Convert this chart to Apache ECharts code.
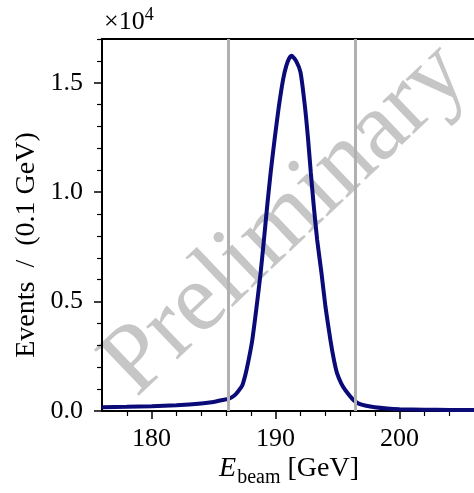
<!DOCTYPE html>
<html>
<head>
<meta charset="utf-8">
<script src="https://cdn.jsdelivr.net/npm/echarts@6/dist/echarts.min.js"></script>
<style>html,body{margin:0;padding:0;background:#fff;}#c{width:474px;height:493px;}</style>
</head>
<body>
<div id="c"></div>
<script>
// Beam energy (GeV) and events per 0.1 GeV
const eBeam = [176.0, 178.0, 180.0, 182.0, 184.0, 185.0, 185.7, 186.24, 186.7, 187.05, 187.3, 187.59, 187.85, 188.12, 188.47, 188.79, 189.06, 189.32, 189.60, 189.92, 190.27, 190.61, 190.85, 191.07, 191.3, 191.65, 192.01, 192.36, 192.62, 192.84, 193.08, 193.35, 193.70, 194.02, 194.42, 194.70, 194.96, 195.30, 195.63, 196.30, 196.7, 197.3, 198.0, 199.0, 200.0, 202.0, 204.0, 206.0];
const events = [170, 190, 215, 260, 340, 410, 500, 569, 720, 950, 1150, 1716, 2400, 3243, 4770, 6303, 7830, 9357, 10890, 12417, 13945, 15170, 15750, 16087, 16230, 16000, 15477, 13945, 12417, 10890, 9357, 7830, 6303, 4770, 3243, 2350, 1716, 1250, 950, 490, 340, 240, 170, 115, 85, 60, 45, 40];
const cutLines = [186.15, 196.4];
const xMajor = [180, 190, 200];
const xMinor = [178, 182, 184, 186, 188, 192, 194, 196, 198, 202, 204];
const yMajor = [0, 5000, 10000, 15000];
const yMinor = [1000, 2000, 3000, 4000, 6000, 7000, 8000, 9000, 11000, 12000, 13000, 14000, 16000, 17000];
const xRange = [176, 206];
const yRange = [0, 17000];

const FONT = 'Liberation Serif';
const chart = echarts.init(document.getElementById('c'), null, {renderer: 'canvas'});
const baseX = {type: 'value', min: xRange[0], max: xRange[1], splitLine: {show: false}};
const baseY = {type: 'value', min: yRange[0], max: yRange[1], splitLine: {show: false}};
chart.setOption({
  animation: false,
  backgroundColor: '#fff',
  grid: {left: 102, right: 0, top: 39, bottom: 82, containLabel: false},
  xAxis: [
    Object.assign({}, baseX, {
      position: 'bottom',
      axisLine: {show: true, onZero: false, lineStyle: {color: '#000', width: 2}},
      axisTick: {show: true, customValues: xMajor, length: 8, lineStyle: {color: '#000', width: 1.5}},
      axisLabel: {show: true, customValues: xMajor, margin: 15, color: '#000', fontFamily: FONT, fontSize: 26}
    }),
    Object.assign({}, baseX, {
      position: 'bottom',
      axisLine: {show: false},
      axisTick: {show: true, customValues: xMinor, length: 5, lineStyle: {color: '#000', width: 1.2}},
      axisLabel: {show: false}
    }),
    Object.assign({}, baseX, {
      position: 'top',
      axisLine: {show: true, onZero: false, lineStyle: {color: '#000', width: 2}},
      axisTick: {show: false},
      axisLabel: {show: false}
    })
  ],
  yAxis: [
    Object.assign({}, baseY, {
      position: 'left',
      axisLine: {show: true, onZero: false, lineStyle: {color: '#000', width: 2}},
      axisTick: {show: true, customValues: yMajor, length: 8, lineStyle: {color: '#000', width: 1.5}},
      axisLabel: {show: true, customValues: yMajor, margin: 19, color: '#000', fontFamily: FONT, fontSize: 26,
        formatter: v => (v / 1e4).toFixed(1)}
    }),
    Object.assign({}, baseY, {
      position: 'left',
      axisLine: {show: false},
      axisTick: {show: true, customValues: yMinor, length: 5, lineStyle: {color: '#000', width: 1.2}},
      axisLabel: {show: false}
    })
  ],
  graphic: [
    {
      type: 'text', x: 286, y: 220, rotation: Math.PI / 4 * 0.97, z: 0, silent: true,
      style: {text: 'Preliminary', fontFamily: FONT, fontSize: 98, fill: '#c6c6c6', align: 'center', verticalAlign: 'middle'}
    },
    {
      type: 'text', x: 27, y: 245, rotation: Math.PI / 2, z: 10,
      style: {text: 'Events  /  (0.1 GeV)', fontFamily: FONT, fontSize: 28, fill: '#000', align: 'center', verticalAlign: 'middle'}
    },
    {
      type: 'text', x: 289, y: 471, z: 10,
      style: {
        text: '{e|E}{s|beam}{t| [GeV]}', align: 'center', verticalAlign: 'middle', fill: '#000',
        rich: {
          e: {fontFamily: FONT, fontSize: 28, fontStyle: 'italic', padding: [0, 1, 5, 0], verticalAlign: 'bottom'},
          s: {fontFamily: FONT, fontSize: 20, verticalAlign: 'bottom'},
          t: {fontFamily: FONT, fontSize: 28, padding: [0, 0, 5, 0], verticalAlign: 'bottom'}
        }
      }
    },
    {
      type: 'text', x: 104, y: 21, z: 10,
      style: {
        text: '{a|×10}{b|4}', align: 'left', verticalAlign: 'middle', fill: '#000',
        rich: {
          a: {fontFamily: FONT, fontSize: 26, verticalAlign: 'bottom'},
          b: {fontFamily: FONT, fontSize: 18, padding: [0, 0, 11, 0], verticalAlign: 'bottom'}
        }
      }
    }
  ],
  series: [
    {
      type: 'line', xAxisIndex: 0, yAxisIndex: 0, z: 1,
      data: [], silent: true,
      markLine: {
        symbol: 'none', silent: true, label: {show: false},
        lineStyle: {color: '#b0b0b0', width: 3, type: 'solid'},
        data: cutLines.map(v => ({xAxis: v}))
      }
    },
    {
      type: 'line', xAxisIndex: 0, yAxisIndex: 0, z: 3,
      data: eBeam.map((x, i) => [x, events[i]]),
      showSymbol: false, smooth: 0.2, clip: true,
      lineStyle: {color: '#0a0a78', width: 4}
    }
  ]
});
</script>
</body>
</html>
